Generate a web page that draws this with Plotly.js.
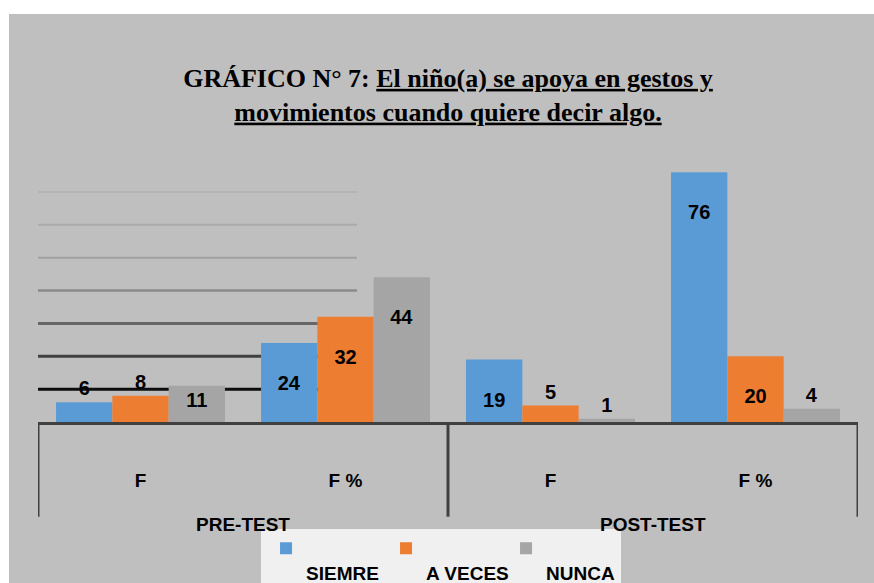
<!DOCTYPE html>
<html>
<head>
<meta charset="utf-8">
<script src="https://cdn.plot.ly/plotly-3.0.1.min.js"></script>
<style>
  html, body { margin: 0; padding: 0; background: #ffffff; width: 874px; height: 583px; overflow: hidden; }
  #chart { position: absolute; left: 9px; top: 14px; width: 865px; height: 569px; }
</style>
</head>
<body>
<div id="chart"></div>
<script>
// ---- data ----
const groups = ['PRE-TEST', 'PRE-TEST', 'POST-TEST', 'POST-TEST'];
const measures = ['F', 'F %', 'F', 'F %'];
const seriesNames = ['SIEMRE', 'A VECES', 'NUNCA'];
const siempre = [6, 24, 19, 76];
const aVeces = [8, 32, 5, 20];
const nunca = [11, 44, 1, 4];
const gridLevels = [10, 20, 30, 40, 50, 60, 70];

// ---- styles ----
const colors = ['#5b9bd5', '#ed7d31', '#a5a5a5'];
const gridColors = ['#0d0d0d', '#404040', '#666666', '#8a8a8a', '#a0a0a0', '#aaaaaa', '#b4b4b4'];
const gridWidths = [3, 3, 3, 2.5, 2, 2, 2];
const axisColor = '#404040';
const sans = 'Liberation Sans, Arial, sans-serif';
const serifStyle = 'font-family:Liberation Serif,Times New Roman,serif;text-decoration:underline';
const labelFont = { family: sans, size: 20, weight: 'bold', color: '#000000' };
const tickFont = { family: sans, size: 19, weight: 'bold', color: '#000000' };

// unique category keys (group + measure) for the x axis
const catKeys = groups.map((g, i) => g + ' | ' + measures[i]);

function labelText(v) {
  return v >= 15 ? '\u00a0<br>' + v : String(v);
}
function labelPos(v) {
  return v >= 10 ? 'inside' : 'outside';
}

const seriesValues = [siempre, aVeces, nunca];
const traces = seriesValues.map((vals, i) => ({
  type: 'bar',
  name: '\u00a0<br>' + seriesNames[i],
  x: catKeys,
  y: vals,
  marker: { color: colors[i], line: { width: 0 } },
  text: vals.map(labelText),
  textposition: vals.map(labelPos),
  insidetextanchor: 'end',
  textangle: 0,
  constraintext: 'none',
  cliponaxis: false,
  textfont: labelFont,
  insidetextfont: labelFont,
  outsidetextfont: labelFont,
  hoverinfo: 'skip'
}));

// gridlines (left part only, as in the original)
const shapes = gridLevels.map((g, i) => ({
  type: 'line', layer: 'below',
  xref: 'paper', yref: 'y',
  x0: 0, x1: 0.389, y0: g, y1: g,
  line: { color: gridColors[i], width: gridWidths[i] }
}));

// group spans derived from the groups array
const groupNames = [...new Set(groups)];
const annotations = [];
const boundaries = [-0.5];
groupNames.forEach(name => {
  const idx = groups.map((g, i) => g === name ? i : -1).filter(i => i >= 0);
  const first = Math.min(...idx), last = Math.max(...idx);
  boundaries.push(last + 0.5);
  annotations.push({
    xref: 'x', yref: 'paper',
    x: (first + last) / 2, y: -0.39,
    xanchor: 'center', yanchor: 'middle',
    text: name, showarrow: false,
    font: tickFont
  });
});
boundaries.forEach(b => shapes.push({
  type: 'line', layer: 'above',
  xref: 'x', yref: 'paper',
  x0: b, x1: b, y0: 0, y1: -0.36,
  line: { color: axisColor, width: 3 }
}));

const layout = {
  width: 865, height: 569,
  paper_bgcolor: '#bfbfbf',
  plot_bgcolor: 'rgba(0,0,0,0)',
  margin: { l: 29, r: 16, t: 145, b: 161, pad: 0, autoexpand: false },
  barmode: 'group',
  bargap: 0.176,
  bargroupgap: 0,
  showlegend: true,
  title: {
    text: '<b>GRÁFICO N° 7: <span style="' + serifStyle + '">El niño(a) se apoya en gestos y</span><br><span style="' + serifStyle + '">movimientos cuando quiere decir algo.</span></b>',
    font: { family: 'Liberation Serif, Times New Roman, serif', size: 26, color: '#000000' },
    x: 0.5, xref: 'paper', xanchor: 'center',
    y: 0.872, yref: 'container', yanchor: 'top'
  },
  xaxis: {
    type: 'category',
    automargin: false,
    range: [-0.5, catKeys.length - 0.5],
    showline: true, linecolor: axisColor, linewidth: 3,
    showgrid: false, zeroline: false,
    tickmode: 'array', tickvals: catKeys, ticktext: measures,
    ticks: 'outside', ticklen: 39, tickcolor: 'rgba(0,0,0,0)',
    tickfont: tickFont
  },
  yaxis: {
    range: [0, 80],
    visible: false, automargin: false,
    showgrid: false, zeroline: false, showticklabels: false
  },
  legend: {
    orientation: 'h',
    x: 0.272, xanchor: 'left',
    y: -0.408, yanchor: 'top',
    bgcolor: '#f0f0f0',
    valign: 'top',
    indentation: 5,
    entrywidth: 70, entrywidthmode: 'pixels',
    font: tickFont
  },
  annotations: annotations,
  shapes: shapes
};

Plotly.newPlot('chart', traces, layout, { displayModeBar: false, staticPlot: true });
</script>
</body>
</html>
